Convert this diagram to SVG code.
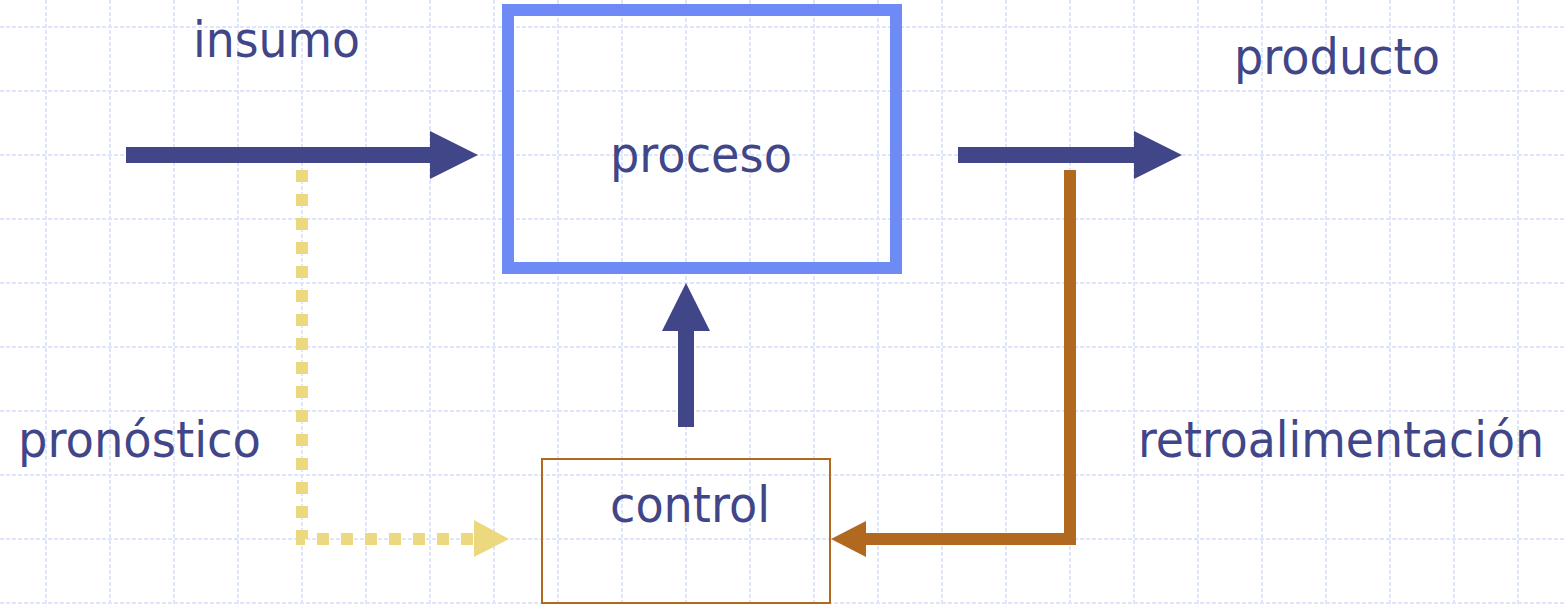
<svg xmlns="http://www.w3.org/2000/svg" width="1564" height="605" viewBox="0 0 1564 605">
<style>
.grid line{stroke:#dfe5fb;stroke-width:2;stroke-dasharray:4 2}
.lbl{font-family:"DejaVu Sans","Liberation Sans",sans-serif;fill:#414689;font-size:49px}
.blue{fill:#414689}
</style>
<rect width="1564" height="605" fill="#ffffff"/>
<g class="grid">
<line x1="46" y1="0" x2="46" y2="605"/><line x1="110" y1="0" x2="110" y2="605"/><line x1="174" y1="0" x2="174" y2="605"/><line x1="238" y1="0" x2="238" y2="605"/><line x1="302" y1="0" x2="302" y2="605"/><line x1="366" y1="0" x2="366" y2="605"/><line x1="430" y1="0" x2="430" y2="605"/><line x1="494" y1="0" x2="494" y2="605"/><line x1="558" y1="0" x2="558" y2="605"/><line x1="622" y1="0" x2="622" y2="605"/><line x1="686" y1="0" x2="686" y2="605"/><line x1="750" y1="0" x2="750" y2="605"/><line x1="814" y1="0" x2="814" y2="605"/><line x1="878" y1="0" x2="878" y2="605"/><line x1="942" y1="0" x2="942" y2="605"/><line x1="1006" y1="0" x2="1006" y2="605"/><line x1="1070" y1="0" x2="1070" y2="605"/><line x1="1134" y1="0" x2="1134" y2="605"/><line x1="1198" y1="0" x2="1198" y2="605"/><line x1="1262" y1="0" x2="1262" y2="605"/><line x1="1326" y1="0" x2="1326" y2="605"/><line x1="1390" y1="0" x2="1390" y2="605"/><line x1="1454" y1="0" x2="1454" y2="605"/><line x1="1518" y1="0" x2="1518" y2="605"/>
<line x1="0" y1="27" x2="1564" y2="27"/><line x1="0" y1="91" x2="1564" y2="91"/><line x1="0" y1="155" x2="1564" y2="155"/><line x1="0" y1="219" x2="1564" y2="219"/><line x1="0" y1="283" x2="1564" y2="283"/><line x1="0" y1="347" x2="1564" y2="347"/><line x1="0" y1="411" x2="1564" y2="411"/><line x1="0" y1="475" x2="1564" y2="475"/><line x1="0" y1="539" x2="1564" y2="539"/><line x1="0" y1="603" x2="1564" y2="603"/>
</g>
<g id="proceso">
<rect x="508" y="10" width="388" height="258" fill="none" stroke="#6e8af5" stroke-width="12"/>
<text class="lbl" x="610" y="172" font-size="52" textLength="182" lengthAdjust="spacingAndGlyphs">proceso</text>
</g>
<g id="control">
<rect x="542" y="459" width="288" height="144" fill="none" stroke="#b0691f" stroke-width="2"/>
<text class="lbl" x="610" y="522" textLength="160" lengthAdjust="spacingAndGlyphs">control</text>
</g>
<g id="insumo"><text class="lbl" x="193" y="57" textLength="167" lengthAdjust="spacingAndGlyphs">insumo</text></g>
<g id="producto"><text class="lbl" x="1234" y="74" textLength="206" lengthAdjust="spacingAndGlyphs">producto</text></g>
<g id="pronostico"><text class="lbl" x="18" y="457" textLength="243" lengthAdjust="spacingAndGlyphs">pronóstico</text></g>
<g id="retroalimentacion"><text class="lbl" x="1138" y="457" font-size="50" textLength="406" lengthAdjust="spacingAndGlyphs">retroalimentación</text></g>
<g id="connectors">
<rect class="blue" x="126" y="147" width="306" height="16"/>
<polygon class="blue" points="430,131 478,155 430,179"/>
<rect class="blue" x="958" y="147" width="178" height="16"/>
<polygon class="blue" points="1134,131 1182,155 1134,179"/>
<rect class="blue" x="678" y="329" width="16" height="98"/>
<polygon class="blue" points="662,331 686,283 710,331"/>
<polyline points="1070,170 1070,539 864,539" fill="none" stroke="#b0691f" stroke-width="12"/>
<polygon points="866,521 831,539 866,557" fill="#b0691f"/>
<polyline points="302,170 302,539 474,539" fill="none" stroke="#ecd87f" stroke-width="12" stroke-dasharray="12 12"/>
<polygon points="474,520 509,539 474,557" fill="#ecd87f"/>
</g>
</svg>
